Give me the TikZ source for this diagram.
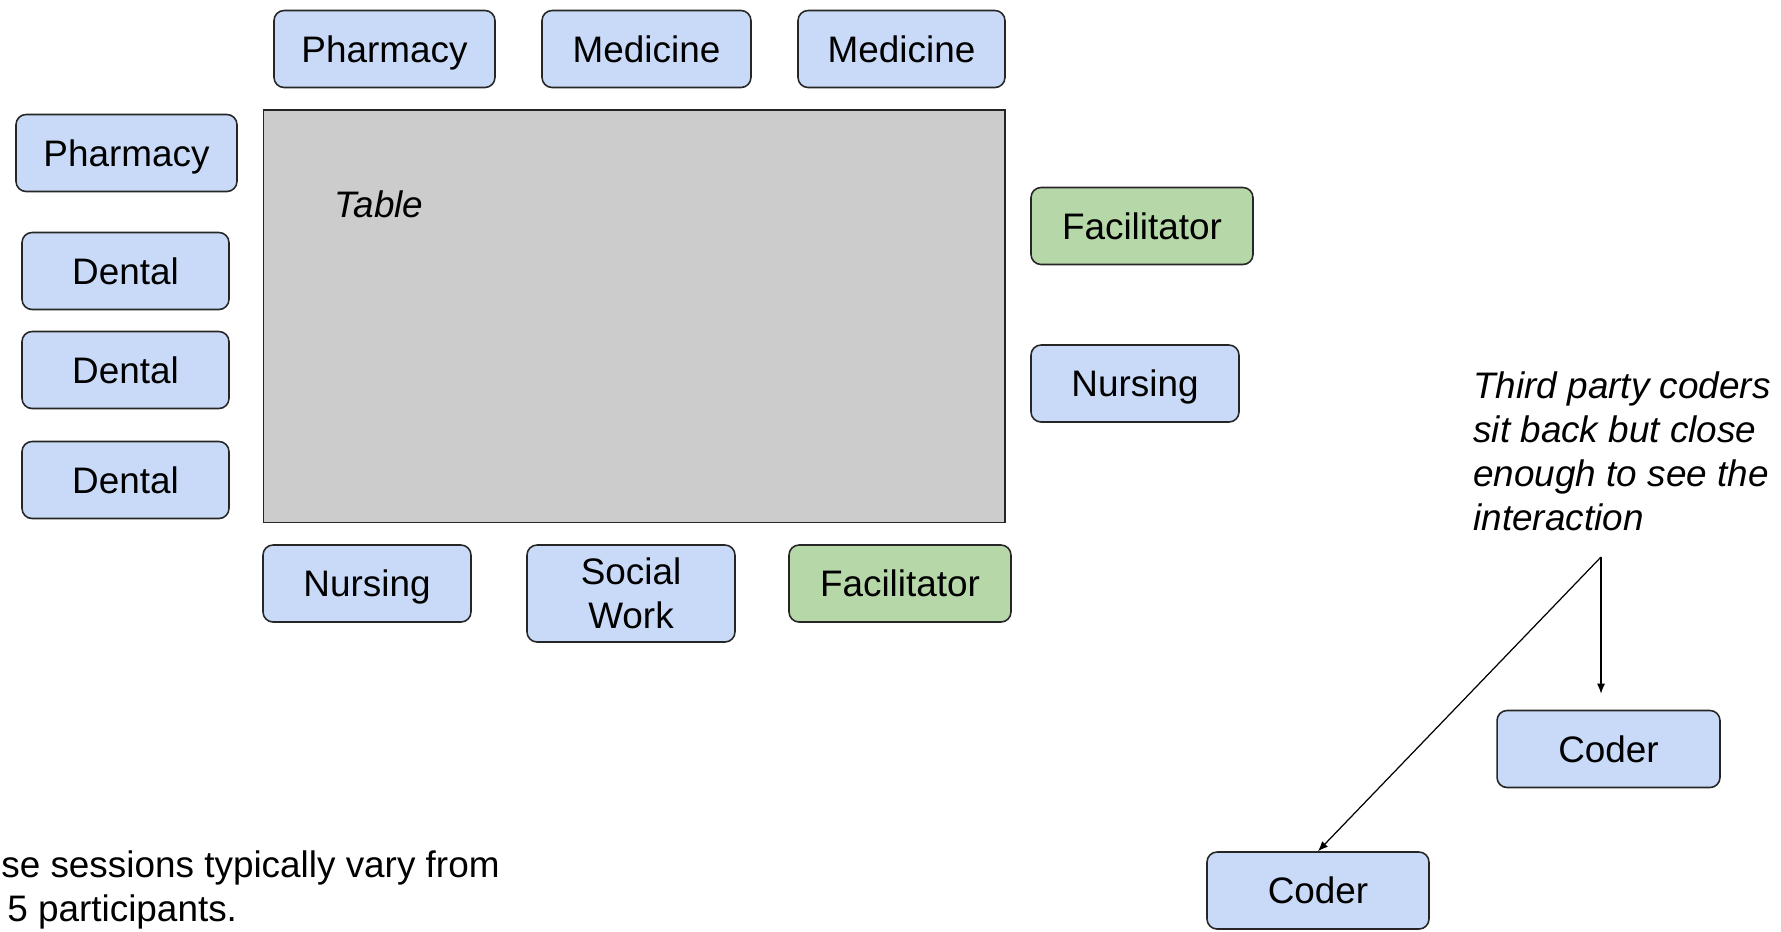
\documentclass[tikz,border=0pt]{standalone}
\usepackage{fontspec}
\setmainfont{Liberation Sans}
\usepackage{tikz}
\usetikzlibrary{
  positioning,
  arrows.meta
}
\definecolor{seatblue}{HTML}{C9DAF8}
\definecolor{seatgreen}{HTML}{B6D7A8}
\definecolor{tablegray}{HTML}{CCCCCC}

\begin{document}
\begin{tikzpicture}[x=0.02cm,y=-0.02cm,>={Latex[length=2mm,width=1.6mm]},
  seat/.style={draw=black!85,line width=0.9pt,rounded corners=0.2cm,fill=seatblue,
    minimum height=1.54cm,inner sep=0pt,align=center,text height=15pt,text depth=0pt,
    font=\fontsize{21}{25}\selectfont},
  facil/.style={seat,fill=seatgreen},
  note/.style={inner sep=0pt,align=left,font=\fontsize{21}{25}\selectfont}]
            \useasboundingbox (0,0) rectangle (1781,931);
            % the table
            \draw[draw=black!85,line width=0.9pt,fill=tablegray] (263.5,110) rectangle (1005,522.5);
            \node[note] (tablelabel) at (379,204) {\itshape Table};
            % top row
            \node[seat,minimum width=4.42cm] (pharm1) at (384.5,49) {Pharmacy};
            \node[seat,minimum width=4.18cm] (med1) at (646.5,49) {Medicine};
            \node[seat,minimum width=4.14cm] (med2) at (901.5,49) {Medicine};
            % left side
            \node[seat,minimum width=4.42cm] (pharm2) at (126.5,153) {Pharmacy};
            \node[seat,minimum width=4.14cm] (dent1) at (125.5,271) {Dental};
            \node[seat,minimum width=4.14cm] (dent2) at (125.5,370) {Dental};
            \node[seat,minimum width=4.14cm] (dent3) at (125.5,480) {Dental};
            % right side
            \node[facil,minimum width=4.44cm] (facil1) at (1142,226) {Facilitator};
            \node[seat,minimum width=4.16cm] (nurs1) at (1135,383.5) {Nursing};
            % bottom row
            \node[seat,minimum width=4.16cm] (nurs2) at (367,583.5) {Nursing};
            \node[seat,minimum width=4.16cm,minimum height=1.94cm,text height=40pt] (social) at (631,593.5) {Social\\Work};
            \node[facil,minimum width=4.44cm] (facil2) at (900,583.5) {Facilitator};
            % coders
            \node[seat,minimum width=4.46cm] (coder1) at (1608.5,749) {Coder};
            \node[seat,minimum width=4.44cm] (coder2) at (1318,890.5) {Coder};
            \node[note,anchor=west] (coders) at (1473,451) {\itshape Third party coders\\\itshape sit back but close\\\itshape enough to see the\\\itshape interaction};
            \coordinate (split) at (1601,557);
            \draw[->,line width=0.7pt] (split) -- (coder2.north);
            \draw[->,line width=0.7pt,shorten >=0.32cm] (split) -- (split |- coder1.north);
            % session size
            \node[note,anchor=west] (sessions) at (1,890) {se sessions typically vary from\\\hspace*{0.12cm}5 participants.};
        \end{tikzpicture}
\end{document}
